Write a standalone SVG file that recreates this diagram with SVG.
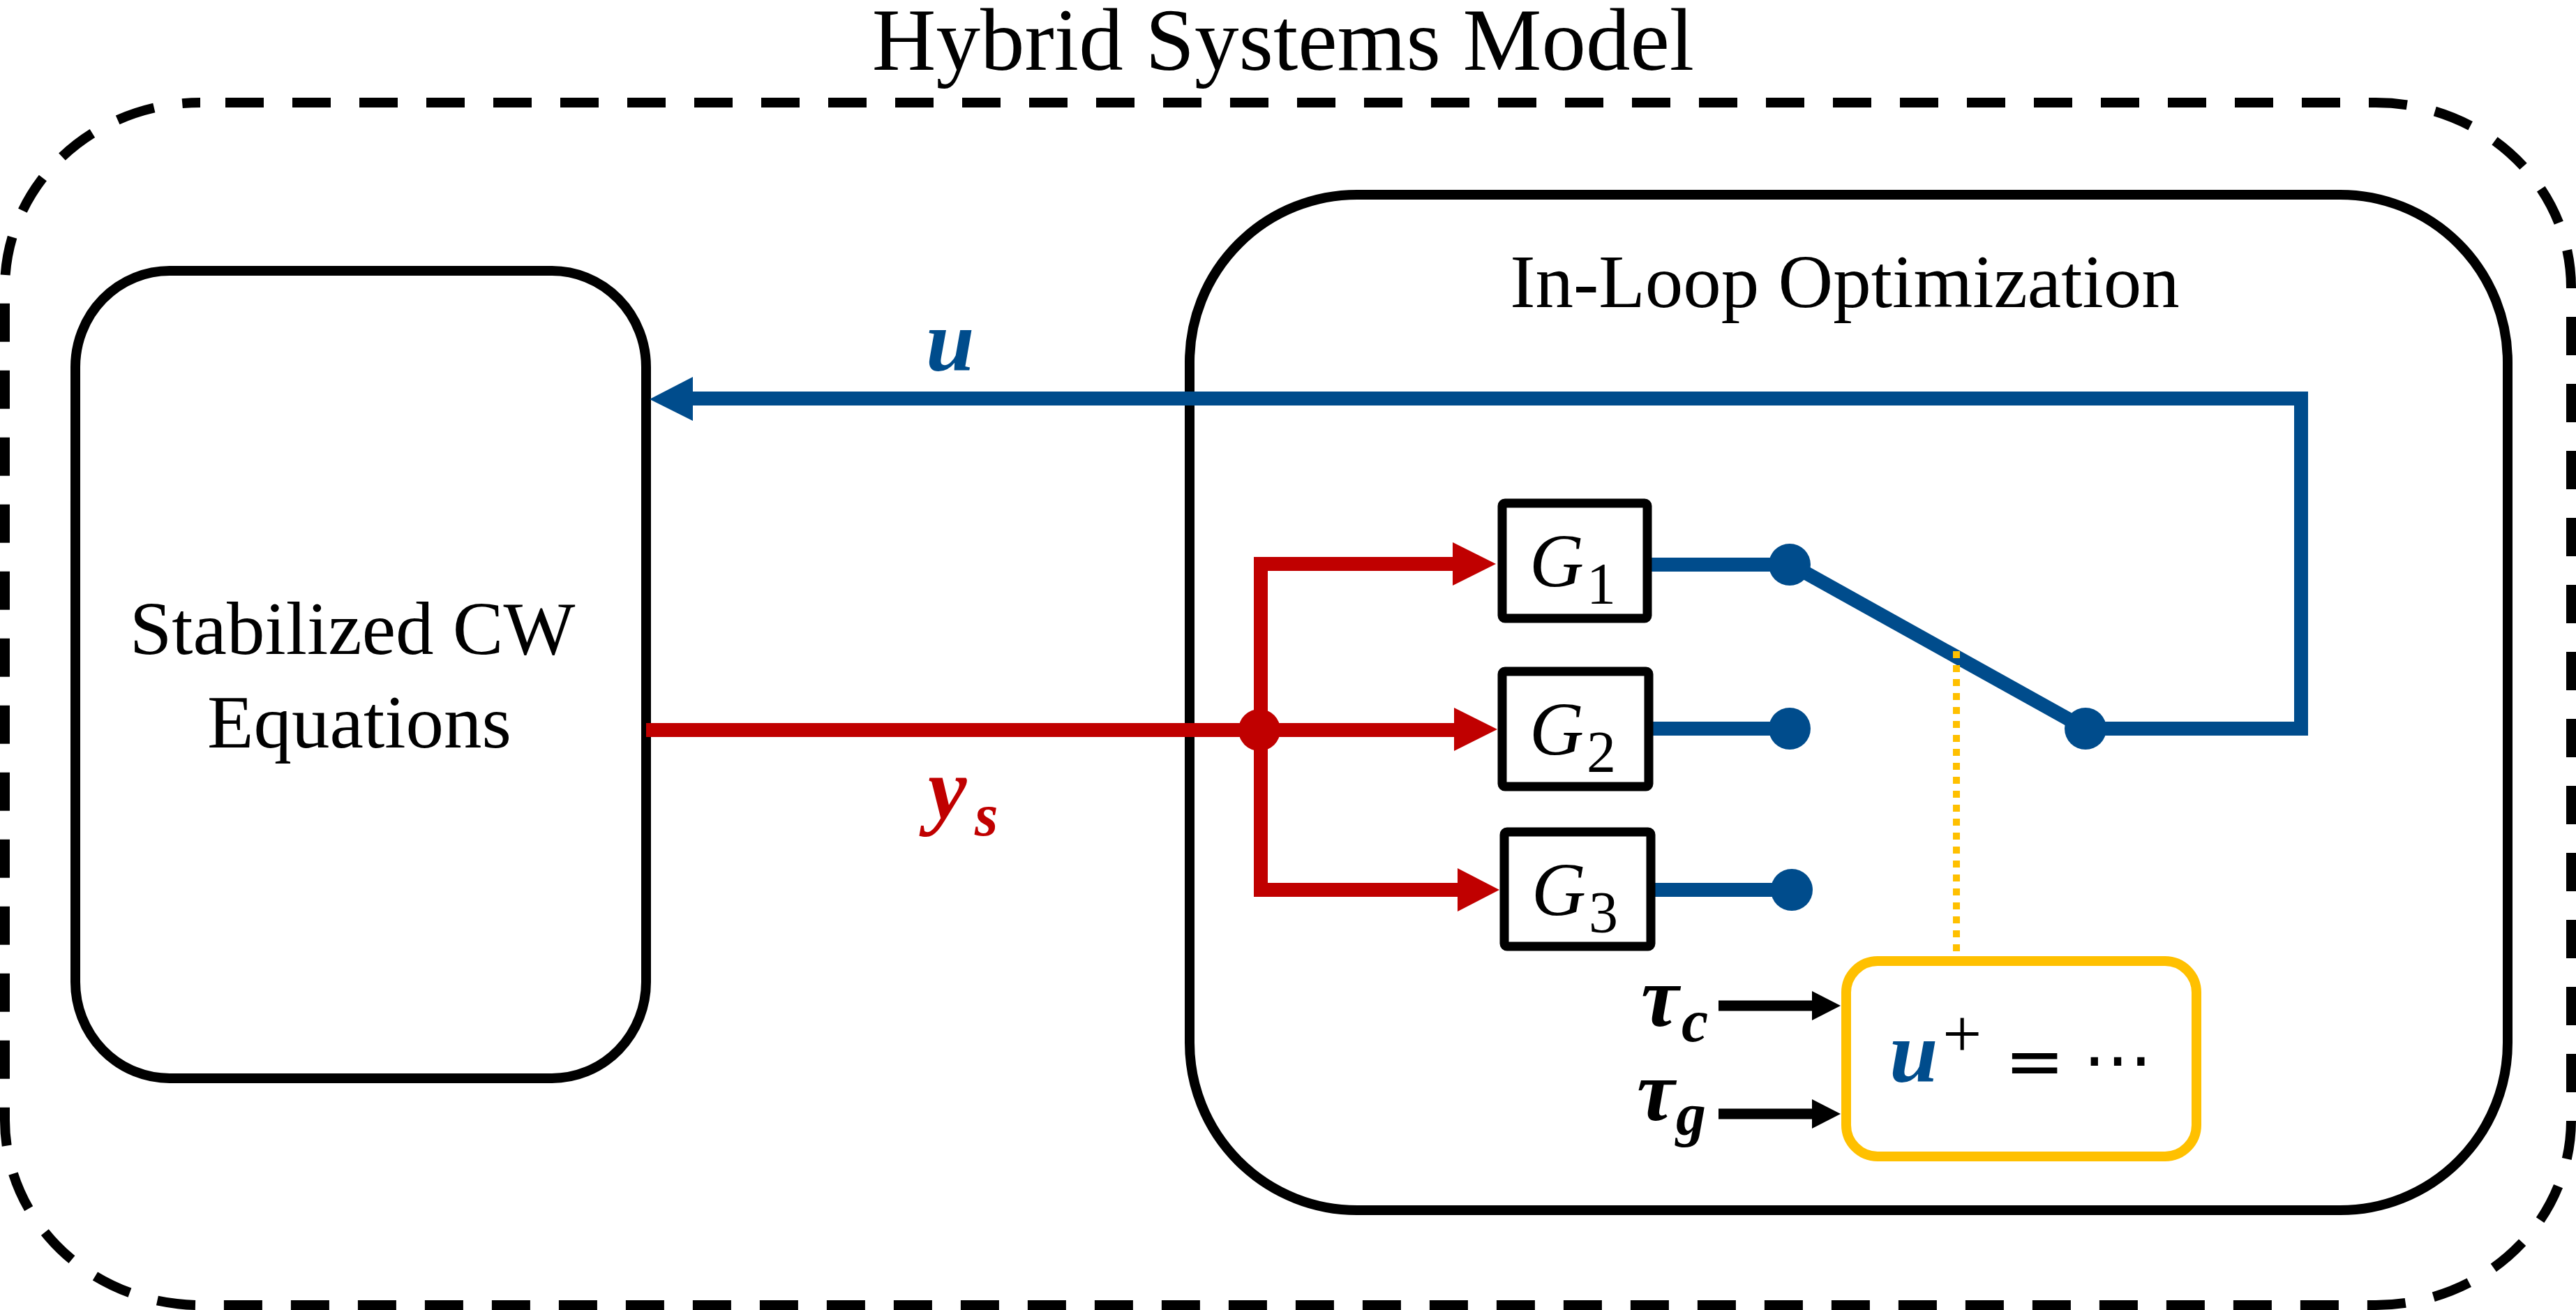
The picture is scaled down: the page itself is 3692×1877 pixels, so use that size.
<svg xmlns="http://www.w3.org/2000/svg" width="3692" height="1877" viewBox="0 0 3692 1877">
<style>
.serif{font-family:"Liberation Serif","Times New Roman",serif;fill:#000;}
.title{font-size:127px;}
.lbl{font-size:109px;}
.it{font-family:"Liberation Serif","Times New Roman",serif;font-style:italic;}
.bi{font-family:"Liberation Serif","Times New Roman",serif;font-style:italic;font-weight:bold;}
.sym{font-family:"DejaVu Sans",sans-serif;fill:#000;}
.box{fill:#fff;stroke:#000;stroke-width:14;}
.gbox{fill:#fff;stroke:#000;stroke-width:13;}
.bl{stroke:#004C8C;stroke-width:20;fill:none;}
.rd{stroke:#C00000;stroke-width:20;fill:none;}
.bk{stroke:#000;stroke-width:15;fill:none;}
.bdot{fill:#004C8C;}
</style>

<g id="hybrid-systems-model">
  <rect x="7" y="147" width="3678" height="1723" rx="280" ry="265" fill="none" stroke="#000" stroke-width="14" stroke-dasharray="55 41" stroke-dashoffset="60"/>
  <text class="serif title" x="1839" y="100" text-anchor="middle">Hybrid Systems Model</text>
</g>

<g id="stabilized-cw">
  <rect class="box" x="108" y="388" width="818" height="1157" rx="135" ry="138"/>
  <text class="serif lbl" x="505" y="937" text-anchor="middle">Stabilized CW</text>
  <text class="serif lbl" x="515" y="1071" text-anchor="middle">Equations</text>
</g>

<g id="in-loop-optimization">
  <rect class="box" x="1705" y="279" width="1889" height="1455" rx="240" ry="240"/>
  <text class="serif lbl" x="2644" y="440" text-anchor="middle">In-Loop Optimization</text>
</g>

<g id="connectors">
  <!-- u feedback -->
  <path class="bl" d="M2989 1044 H3298 V571 H990" stroke-linejoin="miter"/>
  <polygon points="931,572 993,540 993,603" fill="#004C8C"/>
  <!-- y_s -->
  <path class="rd" d="M926 1046 H2090"/>
  <path class="rd" d="M2085 808 H1807 V1275 H2092" stroke-linejoin="miter"/>
  <polygon points="2144,808 2082,777 2082,839" fill="#C00000"/>
  <polygon points="2146,1045 2084,1014 2084,1076" fill="#C00000"/>
  <polygon points="2149,1275 2089,1244 2089,1306" fill="#C00000"/>
  <circle cx="1805" cy="1046" r="30" fill="#C00000"/>
  <!-- G outputs -->
  <path class="bl" d="M2360 809 H2565"/>
  <path class="bl" d="M2362 1044 H2565"/>
  <path class="bl" d="M2365 1275 H2568"/>
  <!-- switch -->
  <path class="bl" d="M2565 808 L2989 1044"/>
  <circle class="bdot" cx="2565" cy="809" r="30"/>
  <circle class="bdot" cx="2565" cy="1044" r="30"/>
  <circle class="bdot" cx="2568" cy="1275" r="30"/>
  <circle class="bdot" cx="2989" cy="1044" r="30"/>
  <!-- switch actuation -->
  <path d="M2804 933 V1372" stroke="#FFC000" stroke-width="10" stroke-dasharray="10 10" fill="none"/>
  <!-- tau inputs -->
  <path class="bk" d="M2463 1441 H2600"/>
  <polygon points="2638,1441 2597,1420 2597,1462" fill="#000"/>
  <path class="bk" d="M2463 1596 H2600"/>
  <polygon points="2638,1596 2597,1575 2597,1617" fill="#000"/>
</g>

<g id="g1">
  <rect class="gbox" x="2153" y="721" width="208" height="165" rx="4"/>
  <text class="it" x="2192" y="840" font-size="108">G</text>
  <text class="serif" x="2274" y="865" font-size="84">1</text>
</g>
<g id="g2">
  <rect class="gbox" x="2153" y="962" width="210" height="165" rx="4"/>
  <text class="it" x="2192" y="1081" font-size="108">G</text>
  <text class="serif" x="2274" y="1106" font-size="84">2</text>
</g>
<g id="g3">
  <rect class="gbox" x="2156" y="1192" width="210" height="164" rx="4"/>
  <text class="it" x="2195" y="1311" font-size="108">G</text>
  <text class="serif" x="2277" y="1336" font-size="84">3</text>
</g>

<g id="update-law">
  <rect x="2646" y="1377" width="502" height="280" rx="45" ry="45" fill="#fff" stroke="#FFC000" stroke-width="14"/>
  <text class="bi" x="2708" y="1550" font-size="125" fill="#004C8C">u</text>
  <text class="serif" x="2784" y="1515" font-size="100" fill="#004C8C">+</text>
  <text class="sym" x="2873" y="1556" font-size="103">=</text>
  <text class="sym" x="2985" y="1552" font-size="100">⋯</text>
</g>

<g id="labels">
  <text class="bi" x="1327" y="531" font-size="125" fill="#004C8C">u</text>
  <text class="bi" x="1330" y="1172" font-size="125" fill="#C00000">y</text>
  <text class="bi" x="1397" y="1197" font-size="86" fill="#C00000">s</text>
  <text class="bi" x="2352" y="1470" font-size="122" fill="#000">τ</text>
  <text class="bi" x="2410" y="1492" font-size="86" fill="#000">c</text>
  <text class="bi" x="2346" y="1605" font-size="122" fill="#000">τ</text>
  <text class="bi" x="2402" y="1625" font-size="86" fill="#000">g</text>
</g>
</svg>
